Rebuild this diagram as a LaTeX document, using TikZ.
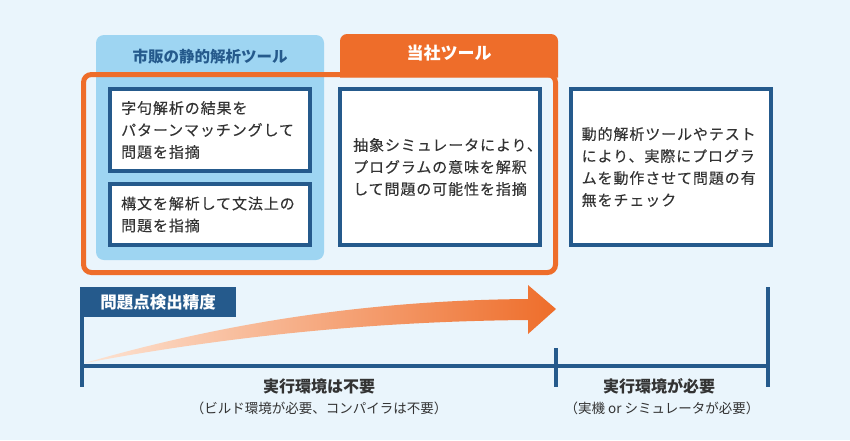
\documentclass[tikz,border=0pt]{standalone}
\usepackage{fontspec}
\setmainfont{Noto Sans CJK JP}
\newfontfamily\bodyfont[LetterSpace=6,FakeBold=0.25]{Noto Sans CJK JP}
\usetikzlibrary{positioning}

\definecolor{bgblue}{HTML}{EAF5FC}
\definecolor{panelblue}{HTML}{9ED5F2}
\definecolor{toolorange}{HTML}{EE6D2A}
\definecolor{darkblue}{HTML}{255A8C}
\definecolor{textgray}{HTML}{333333}
\definecolor{peach}{HTML}{FDE4D4}

\tikzset{
  descbox/.style={draw=darkblue, line width=4pt, fill=white, minimum width=200pt, inner sep=0pt},
  desctext/.style={anchor=west, align=left, inner sep=0pt, text=textgray,
    font=\bodyfont\fontsize{15}{22}\selectfont},
  headtext/.style={inner sep=0pt, font=\fontsize{15.5}{18}\selectfont\bfseries},
  axisline/.style={draw=darkblue, line width=4pt},
  axislabel/.style={inner sep=0pt, text=textgray, font=\fontsize{16}{18}\selectfont\bfseries},
  axisnote/.style={inner sep=0pt, text=textgray, font=\fontsize{13.5}{16}\selectfont}
}

\begin{document}
\begin{tikzpicture}[x=1pt,y=-1pt]
\useasboundingbox[fill=bgblue] (0,0) rectangle (850,440);

% commercial static analysers
\fill[panelblue, rounded corners=8pt] (96,35) rectangle (324,260);
\node[headtext, text=darkblue] (stattitle) at (210,57) {市販の静的解析ツール};

\node[descbox, minimum height=82pt] (lexbox) at (210,130) {};
\node[desctext] (lextxt) at ([xshift=13pt]lexbox.west) {字句解析の結果を\\パターンマッチングして\\問題を指摘};
\node[descbox, minimum height=61pt] (synbox) at (210,214.5) {};
\node[desctext] (syntxt) at ([xshift=13pt]synbox.west) {構文を解析して文法上の\\問題を指摘};

% our tool
\draw[toolorange, line width=5pt, rounded corners=8pt] (83.5,74.5) rectangle (555.5,272.5);
\fill[toolorange, rounded corners=7pt] (340,77.5) -- (340,34) -- (558,34) -- (558,77.5);
\node[headtext, text=white, font=\fontsize{17}{20}\selectfont\bfseries] (owntitle) at (449,53) {当社ツール};

\node[descbox, minimum height=156pt] (absbox) at (440,167) {};
\node[desctext] (abstxt) at ([xshift=15pt]absbox.west) {抽象シミュレータにより、\\プログラムの意味を解釈\\して問題の可能性を指摘};

% dynamic analysis
\node[descbox, minimum height=156pt] (dynbox) at (670.5,167) {};
\node[desctext] (dyntxt) at ([xshift=13pt]dynbox.west) {動的解析ツールやテスト\\により、実際にプログラ\\ムを動作させて問題の有\\無をチェック};

% precision arrow
\shade[left color=peach, right color=toolorange]
  (85,363) .. controls (250,315) and (400,300) .. (528,299)
  -- (528,285) -- (556,309) -- (528,334) -- (528,320)
  .. controls (400,321) and (250,332) .. (85,363) -- cycle;

% axis
\coordinate (axisL) at (82,366);
\coordinate (axisM) at (556,366);
\coordinate (axisR) at (768,366);
\draw[axisline] (82,287) -- (82,387);
\draw[axisline] (556,348) -- (556,387);
\draw[axisline] (768,287) -- (768,387);
\draw[axisline] (axisL) -- (axisR);

\node[fill=darkblue, text=white, inner sep=0pt, minimum width=156pt, minimum height=30pt,
  font=\fontsize{16.5}{18}\selectfont\bfseries] (acclabel) at (158,302) {問題点検出精度};

\node[axislabel] (nolabel) at (319,386) {実行環境は不要};
\node[axisnote] (nonote) at (319,408) {（ビルド環境が必要、コンパイラは不要）};
\node[axislabel] (needlabel) at (659,386) {実行環境が必要};
\node[axisnote] (neednote) at (662,408) {（実機 or シミュレータが必要）};
\end{tikzpicture}
\end{document}
